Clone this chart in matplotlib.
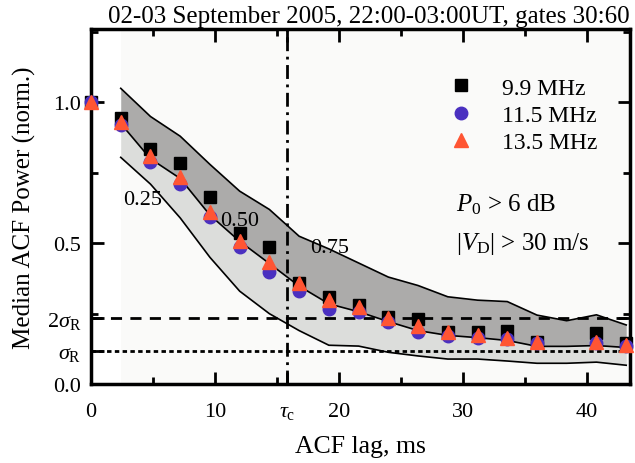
import matplotlib
matplotlib.use("Agg")
import matplotlib.pyplot as plt
from matplotlib.ticker import MultipleLocator

plt.rcParams['font.family'] = ['Liberation Serif', 'DejaVu Serif']
plt.rcParams['mathtext.fontset'] = 'custom'
plt.rcParams['mathtext.rm'] = 'Liberation Serif'
plt.rcParams['mathtext.it'] = 'Liberation Serif:italic'

# median ACF power per radar frequency
lags = [0, 2.4, 4.8, 7.2, 9.6, 12.0, 14.4, 16.8, 19.2, 21.6, 24.0, 26.4,
        28.8, 31.2, 33.6, 36.0, 40.8, 43.2]
p_99 = [1.0, 0.943, 0.833, 0.784, 0.663, 0.535, 0.486, 0.358, 0.31, 0.28,
        0.24, 0.23, 0.184, 0.184, 0.188, 0.149, 0.18, 0.145]
p_115 = [1.0, 0.92, 0.787, 0.71, 0.592, 0.486, 0.397, 0.33, 0.266, 0.255,
         0.22, 0.184, 0.17, 0.163, 0.16, 0.145, 0.145, 0.135]
p_135 = [1.0, 0.93, 0.81, 0.734, 0.61, 0.507, 0.433, 0.358, 0.298, 0.273,
         0.234, 0.206, 0.184, 0.174, 0.163, 0.149, 0.149, 0.138]

# quartiles of all frequencies together
q_lags = [2.4, 4.8, 7.2, 9.6, 12.0, 14.4, 16.8, 19.2, 21.6, 24.0, 26.4,
          28.8, 31.2, 33.6, 36.0, 38.4, 40.8, 43.2]
q25 = [0.805, 0.71, 0.59, 0.45, 0.33, 0.25, 0.19, 0.138, 0.135, 0.113,
       0.10, 0.089, 0.089, 0.082, 0.074, 0.074, 0.078, 0.067]
q50 = [0.925, 0.80, 0.73, 0.60, 0.507, 0.428, 0.348, 0.285, 0.257, 0.222,
       0.19, 0.173, 0.165, 0.155, 0.134, 0.134, 0.137, 0.13]
q75 = [1.05, 0.95, 0.88, 0.78, 0.685, 0.62, 0.525, 0.48, 0.43, 0.38,
       0.35, 0.31, 0.298, 0.293, 0.245, 0.225, 0.246, 0.21]

sigma_r = 0.118
tau_c = 15.8

fig = plt.figure(figsize=(6.35, 4.64), dpi=100)
ax = fig.add_axes([0.1433, 0.170, 0.8487, 0.765])

ax.axvspan(2.4, 43.5, color='#fafaf9', lw=0, zorder=0)
ax.fill_between(q_lags, q25, q50, color='#dcdddb', lw=0, zorder=1)
ax.fill_between(q_lags, q50, q75, color='#acabaa', lw=0, zorder=1)
for q in (q25, q50, q75):
    ax.plot(q_lags, q, color='black', lw=1.2, zorder=2)

ax.axhline(2 * sigma_r, color='black', lw=2, ls=(0, (4, 3)), zorder=3)
ax.axhline(sigma_r, color='black', lw=2, ls=(0, (1.6, 1.2)), zorder=3)
ax.axvline(tau_c, color='black', lw=2, ls=(0, (5, 2, 1, 2)), zorder=3)

ax.plot(lags, p_99, 's', color='black', ms=8, label='9.9 MHz', zorder=4, clip_on=False)
ax.plot(lags, p_115, 'o', color='#4a30c0', ms=9, label='11.5 MHz', zorder=5, clip_on=False)
ax.plot(lags, p_135, '^', color='#ff5533', ms=10, label='13.5 MHz', zorder=6, clip_on=False)

ax.text(2.6, 0.656, '0.25', fontsize=16, va='center', zorder=7)
ax.text(10.4, 0.58, '0.50', fontsize=16, va='center', zorder=7)
ax.text(17.7, 0.485, '0.75', fontsize=16, va='center', zorder=7)
ax.text(29.5, 0.64, r'$P_{\rm 0}$ > 6 dB', fontsize=18, va='center')
ax.text(29.5, 0.50, r'|$V_{\rm D}$| > 30 m/s', fontsize=18, va='center')

ax.legend(loc='upper right', bbox_to_anchor=(0.965, 0.905), frameon=False,
          fontsize=17, handlelength=1.0, handletextpad=1.2,
          labelspacing=0.25, borderaxespad=0.2)

ax.set_xlim(0, 43.5)
ax.set_ylim(0, 1.26)
ax.set_xticks([0, 10, tau_c, 20, 30, 40])
ax.set_xticklabels(['0', '10', r'$\tau_{\rm c}$', '20', '30', '40'])
ax.xaxis.set_minor_locator(MultipleLocator(5))
ax.set_yticks([0, sigma_r, 2 * sigma_r, 0.5, 1.0])
ax.set_yticklabels(['0.0', r'$\sigma_{\rm R}$', r'2$\sigma_{\rm R}$', '0.5', '1.0'])
ax.yaxis.set_minor_locator(MultipleLocator(0.25))
ax.tick_params(which='both', direction='in', top=True, right=True, labelsize=16, width=2)
ax.tick_params(which='major', length=9)
ax.tick_params(which='minor', length=5)
ax.tick_params(axis='x', which='major', pad=13)
ax.tick_params(axis='y', which='major', pad=7)
for s in ax.spines.values():
    s.set_linewidth(2.5)

ax.set_xlabel('ACF lag, ms', fontsize=18.5, labelpad=10)
ax.set_ylabel('Median ACF Power (norm.)', fontsize=18, labelpad=8)
ax.set_title('02-03 September 2005, 22:00-03:00UT, gates 30:60', fontsize=18,
             loc='right', pad=5)

fig.savefig('out.png', dpi=100)
